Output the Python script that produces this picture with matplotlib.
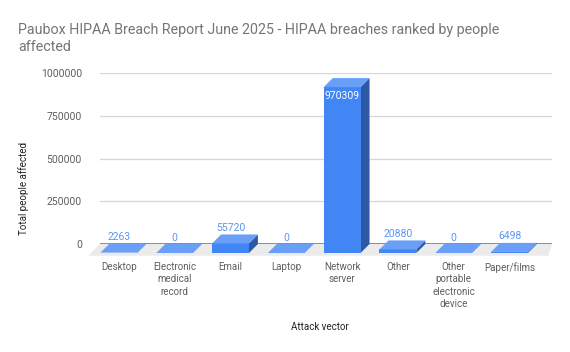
import matplotlib
matplotlib.use('Agg')
import matplotlib.pyplot as plt
from matplotlib.patches import Polygon

plt.rcParams['font.family'] = ['Roboto', 'DejaVu Sans']

# Data
categories = ['Desktop', 'Electronic\nmedical\nrecord', 'Email', 'Laptop', 'Network\nserver',
              'Other', 'Other\nportable\nelectronic\ndevice', 'Paper/films']
people_affected = [2263, 0, 55720, 0, 970309, 20880, 0, 6498]
y_ticks = [0, 250000, 500000, 750000, 1000000]

front_color = '#4285f4'
top_color = '#6a9ff7'
side_color = '#2d58a6'
label_blue = '#5c96f6'

fig = plt.figure(figsize=(5.7, 3.52), dpi=100)
ax = fig.add_axes([100 / 570, 1 - 244 / 352, 452 / 570, 171 / 352])
ax.set_xlim(-0.5, 7.6)
ax.set_ylim(0, 1000000)

# depth of the 3D effect (pixels), turned into data units
depth_px = 9
ddx = depth_px * (ax.get_xlim()[1] - ax.get_xlim()[0]) / ax.bbox.width
ddy = depth_px * (ax.get_ylim()[1] - ax.get_ylim()[0]) / ax.bbox.height
hw = 0.33

# floor
floor_d = 1.3
floor = Polygon([(-0.5, 0), (7.6, 0), (7.6 - 0.4 * ddx, -floor_d * ddy),
                 (-0.5 - floor_d * ddx, -floor_d * ddy)],
                closed=True, facecolor='#ebebeb', edgecolor='none', clip_on=False, zorder=1)
ax.add_patch(floor)

ax.set_yticks(y_ticks)
ax.set_yticklabels([str(t) for t in y_ticks])
ax.grid(axis='y', color='#d6d6d6', linewidth=0.9, zorder=0)
ax.axhline(0, color='#7a7a7a', linewidth=1.2, zorder=2)
ax.set_xticks([])
for s in ax.spines.values():
    s.set_visible(False)
ax.tick_params(axis='y', length=0, pad=13, labelsize=7.5, labelcolor='#5f5f5f')
ax.set_axisbelow(True)

for i, v in enumerate(people_affected):
    x0, x1 = i - hw, i + hw
    front = [(x0 - ddx, -ddy), (x1 - ddx, -ddy), (x1 - ddx, v - ddy), (x0 - ddx, v - ddy)]
    top = [(x0 - ddx, v - ddy), (x1 - ddx, v - ddy), (x1, v), (x0, v)]
    side = [(x1 - ddx, -ddy), (x1, 0), (x1, v), (x1 - ddx, v - ddy)]
    for pts, c in [(side, side_color), (front, front_color), (top, top_color)]:
        ax.add_patch(Polygon(pts, closed=True, facecolor=c, edgecolor='none',
                             clip_on=False, zorder=3))
    if v > 900000:
        ax.annotate(str(v), (i - ddx, v - ddy), xytext=(0, -3), textcoords='offset points',
                    ha='center', va='top', fontsize=7.5, color='white', zorder=5)
    else:
        ax.annotate(str(v), (i - ddx, v), xytext=(0, 1), textcoords='offset points',
                    ha='center', va='bottom', fontsize=7.5, color=label_blue, zorder=5)
    ax.annotate(categories[i], (i - ddx, 0), xytext=(0, -13), textcoords='offset points',
                ha='center', va='top', fontsize=7, color='#5f5f5f', linespacing=1.3,
                annotation_clip=False)

fig.text(18 / 570, 1 - 23 / 352,
         'Paubox HIPAA Breach Report June 2025 - HIPAA breaches ranked by people\naffected',
         ha='left', va='top', fontsize=10.3, color='#757575', linespacing=1.25)
fig.text(24 / 570, 1 - 188 / 352, 'Total people affected', rotation=90,
         ha='center', va='center', fontsize=7, color='#222222')
fig.text(320 / 570, 1 - 327 / 352, 'Attack vector', ha='center', va='center',
         fontsize=7, color='#222222')

fig.savefig('out.png', dpi=100)
